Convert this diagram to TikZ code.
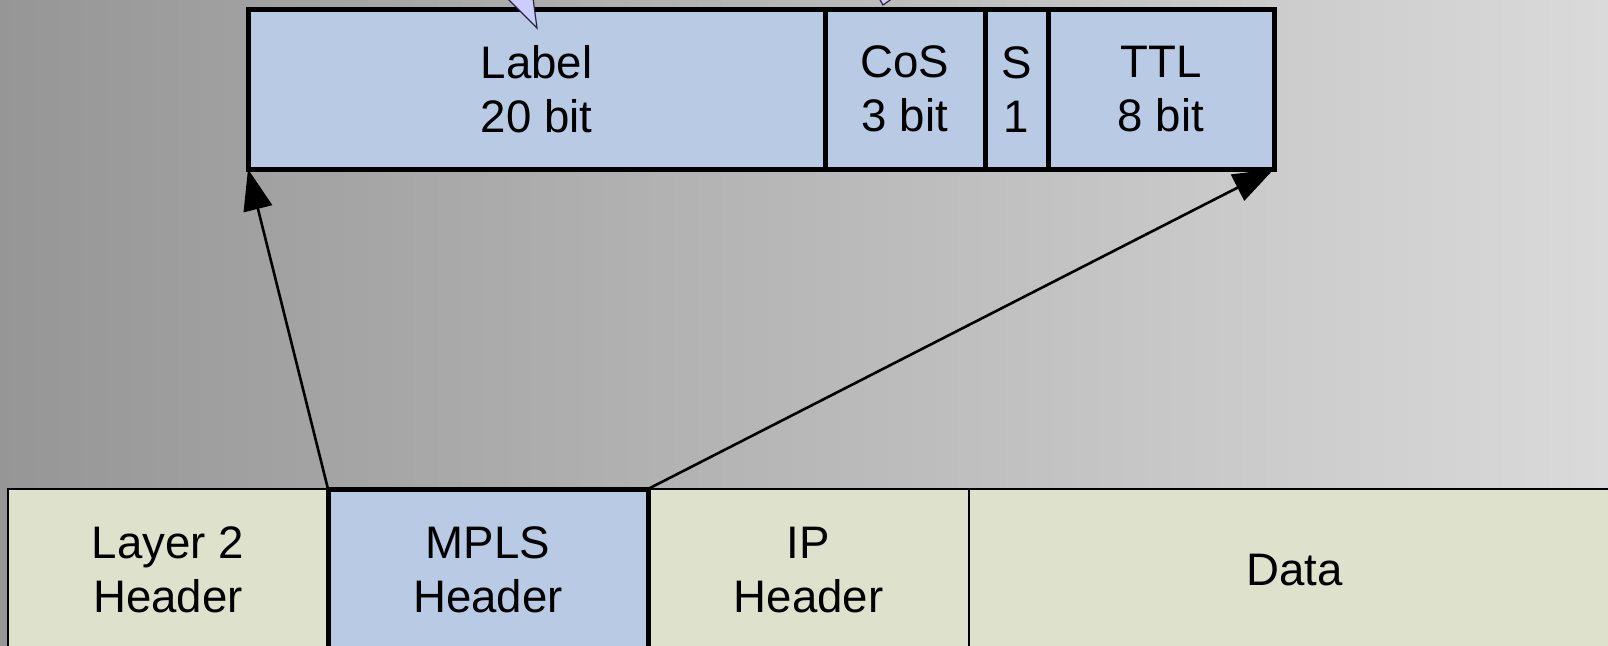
\documentclass[tikz,border=0pt]{standalone}
\usepackage{fontspec}
\setmainfont{Liberation Sans}
\usetikzlibrary{arrows.meta}
\definecolor{fieldblue}{RGB}{184,202,228}
\definecolor{fieldgreen}{RGB}{222,226,204}
\definecolor{calloutfill}{RGB}{204,204,255}
\definecolor{calloutline}{RGB}{40,40,60}
\definecolor{metaldark}{RGB}{150,150,150}
\definecolor{metalmid}{RGB}{182,182,182}
\definecolor{metallight}{RGB}{218,218,218}

\begin{document}
\begin{tikzpicture}[x=0.5pt,y=-0.5pt,
  cell/.style={rectangle, outer sep=0pt, inner sep=2pt, align=center,
    font=\fontsize{22.8pt}{27pt}\selectfont},
  labelfield/.style={cell, draw=black, fill=fieldblue, line width=2.5pt,
    minimum height=79.75pt, minimum width=#1},
  framefield/.style={cell, draw=black, fill=fieldgreen, line width=1pt,
    minimum height=81pt, minimum width=#1},
  mplsfield/.style={cell, draw=black, fill=fieldblue, line width=2.5pt,
    minimum height=81pt, minimum width=#1},
  callout/.style={fill=calloutfill, draw=calloutline, line width=0.6pt, line join=miter},
  pointer/.style={draw=black, line width=1.3pt,
    -{Triangle[length=20.5pt,width=14.5pt]}}
]
\useasboundingbox (0,0) rectangle (1608,645);
\clip (0,0) rectangle (1608,645);

% brushed-metal backdrop
\shade[left color=metaldark, middle color=metalmid, right color=metallight]
  (0,0) rectangle (1608,645);

% MPLS shim header fields
\node[labelfield=288.5pt] (label) at (536.5,89.25) {Label\\20 bit};
\node[labelfield=80pt]    (cos)   at (905,89.25)   {CoS\\3 bit};
\node[labelfield=31.5pt]  (sbit)  at (1016.5,89.25){S\\1};
\node[labelfield=113pt]   (ttl)   at (1161,89.25)  {TTL\\8 bit};

% pointers of callouts from above
\draw[callout] (507,-2) -- (537,28) -- (533,-2);
\draw[callout] (879,-2) -- (883,5) -- (893,-2);

% frame layout
\node[framefield=160pt]   (l2)   at (168,570)    {Layer 2\\Header};
\node[framefield=160.5pt] (ip)   at (808.5,570)  {IP\\Header};
\node[framefield=325.5pt] (data) at (1294.5,570) {Data};
\node[mplsfield=160pt]    (mpls) at (488,570)    {MPLS\\Header};

% expansion of the MPLS header
\draw[pointer] (mpls.north west) -- (label.south west);
\draw[pointer] (mpls.north east) -- (ttl.south east);
\end{tikzpicture}
\end{document}
